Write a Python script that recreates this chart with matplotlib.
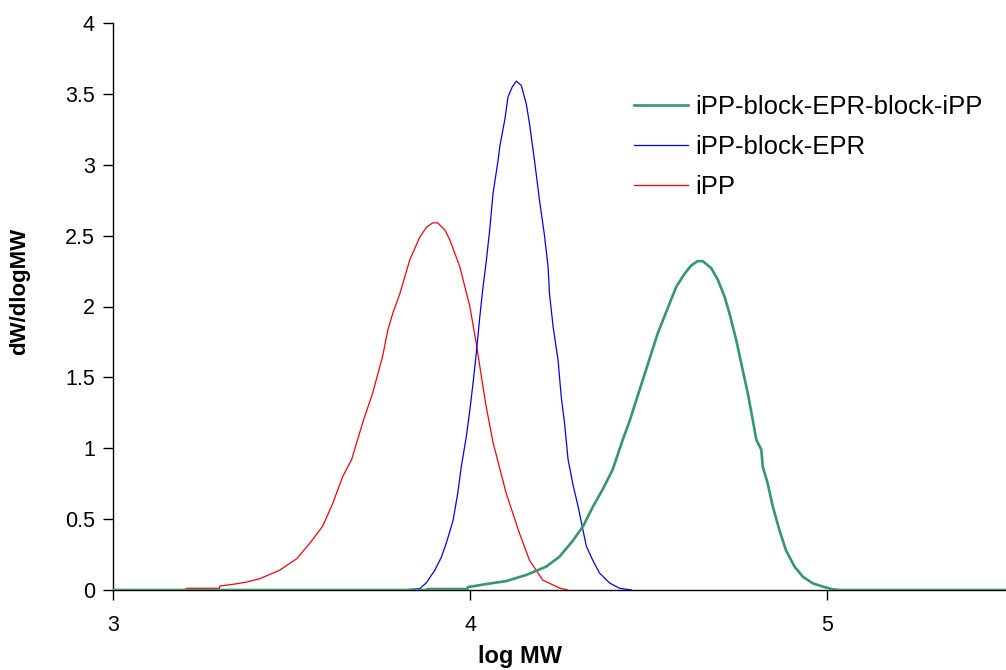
#Distribucion de pesos moleculares (GPC)
import matplotlib.pyplot as plt
import numpy as np

plt.rcParams['font.family'] = ['Liberation Sans', 'DejaVu Sans']

# iPP
x_ipp = [3.201, 3.206, 3.298, 3.299, 3.341, 3.374, 3.411, 3.467, 3.514, 3.551,
         3.587, 3.615, 3.643, 3.668, 3.699, 3.727, 3.755, 3.769, 3.783, 3.803,
         3.831, 3.859, 3.878, 3.895, 3.909, 3.929, 3.943, 3.971, 3.999, 4.017,
         4.036, 4.045, 4.064, 4.101, 4.138, 4.166, 4.203, 4.250, 4.273]
y_ipp = [0.0, 0.012, 0.012, 0.028, 0.042, 0.056, 0.08, 0.14, 0.22, 0.33,
         0.45, 0.61, 0.80, 0.92, 1.18, 1.39, 1.65, 1.83, 1.95, 2.09,
         2.33, 2.49, 2.56, 2.59, 2.59, 2.54, 2.47, 2.28, 2.0, 1.74,
         1.43, 1.29, 1.04, 0.68, 0.40, 0.21, 0.07, 0.014, 0.0]

# iPP-block-EPR
x_blk = [3.808, 3.859, 3.877, 3.901, 3.919, 3.933, 3.952, 3.965, 3.975, 3.989,
         3.999, 4.008, 4.017, 4.027, 4.036, 4.045, 4.055, 4.064, 4.078, 4.083,
         4.097, 4.106, 4.118, 4.129, 4.143, 4.157, 4.166, 4.180, 4.194, 4.208,
         4.218, 4.222, 4.232, 4.246, 4.255, 4.264, 4.274, 4.288, 4.302, 4.316,
         4.325, 4.343, 4.362, 4.390, 4.418, 4.452]
y_blk = [0.0, 0.01, 0.05, 0.14, 0.23, 0.33, 0.49, 0.68, 0.87, 1.08,
         1.27, 1.46, 1.67, 1.93, 2.14, 2.32, 2.55, 2.80, 3.03, 3.13,
         3.32, 3.48, 3.55, 3.59, 3.56, 3.43, 3.29, 3.03, 2.75, 2.50,
         2.28, 2.09, 1.86, 1.62, 1.36, 1.18, 0.92, 0.74, 0.59, 0.42,
         0.31, 0.21, 0.12, 0.05, 0.012, 0.0]

# iPP-block-EPR-block-iPP
x_tri = [3.0, 3.880, 3.881, 3.992, 3.993, 4.045, 4.101, 4.157, 4.213, 4.250,
         4.288, 4.316, 4.344, 4.371, 4.399, 4.427, 4.446, 4.465, 4.483, 4.507,
         4.525, 4.539, 4.558, 4.577, 4.600, 4.619, 4.637, 4.651, 4.675, 4.693,
         4.712, 4.726, 4.745, 4.763, 4.777, 4.791, 4.801, 4.815, 4.819, 4.833,
         4.847, 4.866, 4.884, 4.908, 4.931, 4.959, 4.987, 5.015, 5.034, 5.5]
y_tri = [0.0, 0.0, 0.007, 0.007, 0.02, 0.042, 0.063, 0.106, 0.165, 0.235,
         0.35, 0.45, 0.59, 0.71, 0.85, 1.06, 1.19, 1.34, 1.48, 1.67,
         1.81, 1.90, 2.02, 2.14, 2.23, 2.29, 2.32, 2.32, 2.27, 2.19,
         2.07, 1.95, 1.76, 1.55, 1.39, 1.20, 1.06, 0.99, 0.87, 0.75,
         0.59, 0.42, 0.28, 0.165, 0.094, 0.047, 0.024, 0.005, 0.0, 0.0]

fig = plt.figure(figsize=(10.06, 6.70), dpi=100)
ax = fig.add_axes([113/1006, 80/670, 1 - 113/1006, 567/670])

l1, = ax.plot(x_tri, y_tri, color='#339966', linewidth=1.9, zorder=4)
l2, = ax.plot(x_blk, y_blk, color='#0000FF', linewidth=0.9, zorder=3)
l3, = ax.plot(x_ipp, y_ipp, color='#FF0000', linewidth=0.9, zorder=2)

ax.set_xlim(3, 5.5)
ax.set_ylim(0, 4)
ax.set_xticks([3, 4, 5])
ax.set_xticklabels(['3', '4', '5'])
ax.set_yticks(np.arange(0, 4.01, 0.5))
ax.set_yticklabels(['0', '0.5', '1', '1.5', '2', '2.5', '3', '3.5', '4'])

for s in ['top', 'right']:
    ax.spines[s].set_visible(False)
for s in ['left', 'bottom']:
    ax.spines[s].set_linewidth(1.0)
    ax.spines[s].set_color('black')
    ax.spines[s].set_zorder(1)

ax.tick_params(axis='x', direction='out', length=7, width=1, pad=11, labelsize=15.5)
ax.tick_params(axis='y', direction='out', length=7, width=1, pad=6, labelsize=15.5)

fig.text(520/1006, 1 - 657/670, 'log MW', ha='center', va='center',
         fontsize=17, fontweight='bold')
fig.text(20/1006, 1 - 291/670, 'dW/dlogMW', ha='center', va='center',
         rotation=90, fontsize=16, fontweight='bold')

ax.legend([l1, l2, l3], ['iPP-block-EPR-block-iPP', 'iPP-block-EPR', 'iPP'],
          loc='upper left', bbox_to_anchor=(634/1006, 1 - 95/670),
          bbox_transform=fig.transFigure, frameon=False, fontsize=18.5,
          handlelength=2.1, handletextpad=0.28, labelspacing=0.62,
          borderpad=0, borderaxespad=0)

plt.savefig('out.png', dpi=100)
